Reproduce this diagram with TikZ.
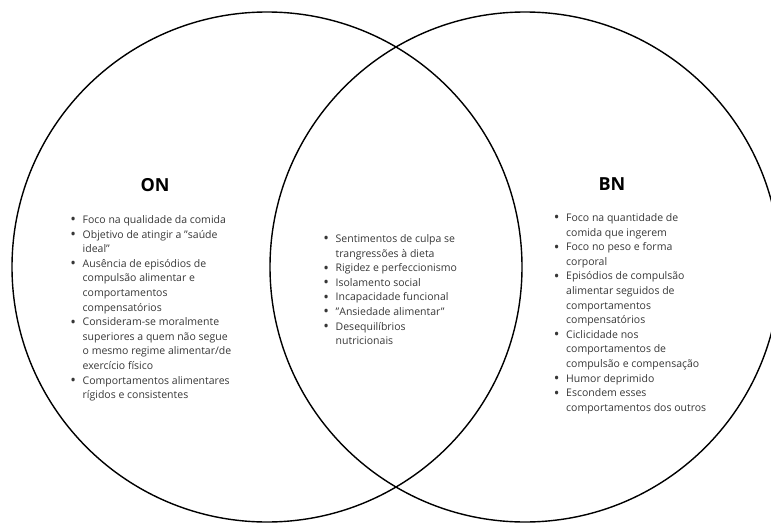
\documentclass[tikz,border=0pt]{standalone}
\usepackage{fontspec}
\setmainfont{Open Sans}
\definecolor{textogray}{RGB}{55,55,55}
\usepackage{tikz}
\newcommand{\bul}{\makebox[12pt][l]{\makebox[5pt][c]{\raisebox{-1.4pt}{\fontsize{15}{15}\selectfont\textbullet}}}}

\begin{document}
\begin{tikzpicture}[x=1pt, y=-1pt, every node/.style={inner sep=0pt},
    conjunto/.style={draw, circle, line width=1.4pt, minimum size=510pt},
    titulo/.style={font=\fontsize{18}{22}\selectfont\bfseries},
    lista/.style={anchor=base west, text=textogray, font=\fontsize{10.5}{14.6}\selectfont}]
    \clip (0,0) rectangle (771,524);

    % Conjuntos
    \node[conjunto] (oncirc) at (267,267) {};
    \node[conjunto] (bncirc) at (525,267) {};

    % Títulos
    \node[titulo] (on) at (155,185) {ON};
    \node[titulo] (bn) at (612,184) {BN};

    % Listas
    \node[lista] (onlist) at (70.5,223.5) {\begin{tabular}[t]{@{}l@{}l@{}}
        \bul & Foco na qualidade da comida\\
        \bul & Objetivo de atingir a "saúde\\
             & ideal"\\
        \bul & Ausência de episódios de\\
             & compulsão alimentar e\\
             & comportamentos\\
             & compensatórios\\
        \bul & Consideram-se moralmente\\
             & superiores a quem não segue\\
             & o mesmo regime alimentar/de\\
             & exercício físico\\
        \bul & Comportamentos alimentares\\
             & rígidos e consistentes
    \end{tabular}};
    \node[lista] (bothlist) at (323.5,242.5) {\begin{tabular}[t]{@{}l@{}l@{}}
        \bul & Sentimentos de culpa se\\
             & trangressões à dieta\\
        \bul & Rigidez e perfeccionismo\\
        \bul & Isolamento social\\
        \bul & Incapacidade funcional\\
        \bul & "Ansiedade alimentar"\\
        \bul & Desequilíbrios\\
             & nutricionais
    \end{tabular}};
    \node[lista] (bnlist) at (554,221.5) {\begin{tabular}[t]{@{}l@{}l@{}}
        \bul & Foco na quantidade de\\
             & comida que ingerem\\
        \bul & Foco no peso e forma\\
             & corporal\\
        \bul & Episódios de compulsão\\
             & alimentar seguidos de\\
             & comportamentos\\
             & compensatórios\\
        \bul & Ciclicidade nos\\
             & comportamentos de\\
             & compulsão e compensação\\
        \bul & Humor deprimido\\
        \bul & Escondem esses\\
             & comportamentos dos outros
    \end{tabular}};
\end{tikzpicture}
\end{document}
